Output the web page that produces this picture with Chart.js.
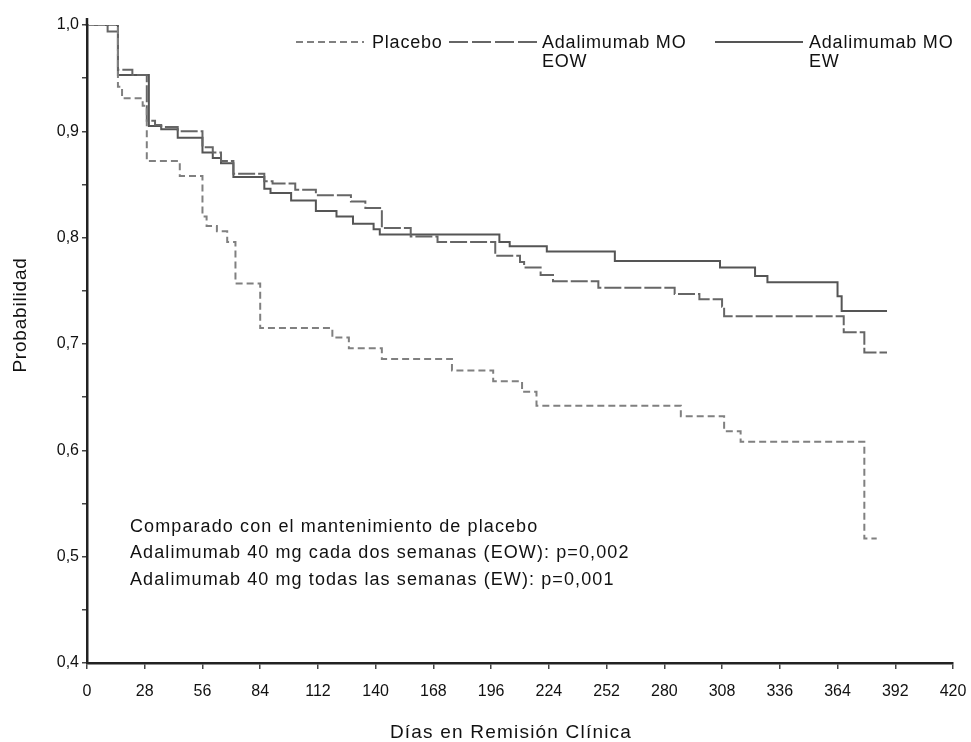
<!DOCTYPE html>
<html lang="es">
<head>
<meta charset="utf-8">
<title>Días en Remisión Clínica</title>
<script src="https://cdn.jsdelivr.net/npm/chart.js@4.4.1/dist/chart.umd.min.js"></script>
<style>
  html, body { margin: 0; padding: 0; background: #fff; }
  #wrap { width: 971px; height: 742px; }
</style>
</head>
<body>
<div id="wrap"><canvas id="kmChart" width="971" height="742"></canvas></div>
<script>
// Kaplan-Meier steps: day of the step and the probability after it
const placeboDays = [0, 15, 17, 27, 29, 45, 56, 58, 63, 68, 72, 84, 119, 127, 143, 177, 197, 211, 218, 288, 309, 317, 377, 383];
const placeboVals = [1.0, 0.942, 0.931, 0.924, 0.872, 0.858, 0.820, 0.811, 0.806, 0.796, 0.757, 0.715, 0.706, 0.696, 0.686, 0.675, 0.665, 0.655, 0.642, 0.632, 0.618, 0.608, 0.517, 0.517];

const eowDays = [0, 10, 15, 22, 29, 33, 36, 44, 56, 61, 65, 71, 86, 90, 101, 111, 128, 135, 143, 157, 170, 198, 210, 212, 220, 226, 248, 285, 297, 308, 309, 367, 377, 388];
const eowVals = [1.0, 0.994, 0.958, 0.953, 0.910, 0.906, 0.904, 0.900, 0.885, 0.880, 0.872, 0.860, 0.853, 0.851, 0.845, 0.840, 0.834, 0.828, 0.809, 0.801, 0.796, 0.783, 0.777, 0.772, 0.765, 0.759, 0.753, 0.747, 0.742, 0.735, 0.726, 0.711, 0.692, 0.692];

const ewDays = [0, 15, 30, 36, 44, 56, 61, 65, 71, 86, 89, 99, 111, 121, 129, 139, 142, 200, 205, 223, 256, 307, 324, 330, 364, 366, 388];
const ewVals = [1.0, 0.953, 0.905, 0.902, 0.894, 0.880, 0.875, 0.870, 0.857, 0.846, 0.842, 0.835, 0.825, 0.820, 0.813, 0.808, 0.803, 0.796, 0.792, 0.787, 0.778, 0.772, 0.764, 0.758, 0.745, 0.731, 0.731];

const xTicks = [0, 28, 56, 84, 112, 140, 168, 196, 224, 252, 280, 308, 336, 364, 392, 420];
const yTicks = [0.4, 0.45, 0.5, 0.55, 0.6, 0.65, 0.7, 0.75, 0.8, 0.85, 0.9, 0.95, 1.0];
const yTickLabels = ["0,4", "", "0,5", "", "0,6", "", "0,7", "", "0,8", "", "0,9", "", "1,0"];

const legendNames = [["Placebo"], ["Adalimumab MO", "EOW"], ["Adalimumab MO", "EW"]];
const noteLines = [
  "Comparado con el mantenimiento de placebo",
  "Adalimumab 40 mg cada dos semanas (EOW): p=0,002",
  "Adalimumab 40 mg todas las semanas (EW): p=0,001"
];

const FONT = "'Liberation Sans', Arial, sans-serif";

function toPoints(days, vals) {
  return days.map((d, i) => ({ x: d, y: vals[i] }));
}

// Legend, note and axis titles
const extrasPlugin = {
  id: "extras",
  afterDraw(chart) {
    const ctx = chart.ctx;
    const area = chart.chartArea;
    ctx.save();

    // y axis runs a little above 1,0
    ctx.strokeStyle = "#222";
    ctx.lineWidth = 2.5;
    ctx.beginPath();
    ctx.moveTo(area.left, area.top + 1);
    ctx.lineTo(area.left, area.top - 7);
    ctx.stroke();

    // legend
    const items = [
      { x1: 296, x2: 364, tx: 372, dash: [7, 4], color: "#808080" },
      { x1: 449, x2: 540, tx: 542, dash: [19, 4], color: "#666" },
      { x1: 715, x2: 803, tx: 809, dash: [], color: "#555" }
    ];
    ctx.letterSpacing = "0.8px";
    items.forEach((it, i) => {
      ctx.strokeStyle = it.color;
      ctx.lineWidth = 2;
      ctx.setLineDash(it.dash);
      ctx.beginPath();
      ctx.moveTo(it.x1, 42);
      ctx.lineTo(it.x2, 42);
      ctx.stroke();
      ctx.setLineDash([]);
      ctx.fillStyle = "#111";
      ctx.font = "18px " + FONT;
      ctx.textAlign = "left";
      ctx.textBaseline = "middle";
      legendNames[i].forEach((t, j) => ctx.fillText(t, it.tx, 43 + j * 19));
    });

    // p-value note
    ctx.font = "18px " + FONT;
    ctx.letterSpacing = "1.1px";
    ctx.fillStyle = "#111";
    noteLines.forEach((t, i) => ctx.fillText(t, 130, 527 + i * 26.5));

    // axis titles
    ctx.font = "19px " + FONT;
    ctx.letterSpacing = "1.2px";
    ctx.textAlign = "center";
    ctx.fillText("Días en Remisión Clínica", 511, 733);
    ctx.translate(21, 315);
    ctx.rotate(-Math.PI / 2);
    ctx.letterSpacing = "0.8px";
    ctx.fillText("Probabilidad", 0, 0);
    ctx.restore();
  }
};

const ctx = document.getElementById("kmChart").getContext("2d");
new Chart(ctx, {
  type: "line",
  data: {
    datasets: [
      {
        label: "Placebo",
        data: toPoints(placeboDays, placeboVals),
        borderColor: "#808080",
        borderDash: [7, 4],
        borderWidth: 2,
        stepped: "before",
        pointRadius: 0,
        fill: false
      },
      {
        label: "Adalimumab MO EOW",
        data: toPoints(eowDays, eowVals),
        borderColor: "#666",
        borderDash: [17, 3],
        borderWidth: 2,
        stepped: "before",
        pointRadius: 0,
        fill: false
      },
      {
        label: "Adalimumab MO EW",
        data: toPoints(ewDays, ewVals),
        borderColor: "#555",
        borderWidth: 2,
        stepped: "before",
        pointRadius: 0,
        fill: false
      }
    ]
  },
  options: {
    responsive: false,
    animation: false,
    layout: { padding: { top: 25, right: 18, left: 0, bottom: 0 } },
    plugins: {
      legend: { display: false },
      tooltip: { enabled: false }
    },
    scales: {
      x: {
        type: "linear",
        min: 0,
        max: 420,
        afterBuildTicks: (scale) => { scale.ticks = xTicks.map(v => ({ value: v })); },
        afterFit: (scale) => {
          scale.height = 79;
          scale.paddingLeft = 0;
          scale.paddingRight = 0;
        },
        ticks: {
          autoSkip: false,
          maxRotation: 0,
          padding: 13,
          color: "#111",
          font: { family: FONT, size: 16 }
        },
        grid: { drawOnChartArea: false, drawTicks: true, tickLength: 6, color: "#444", lineWidth: 1.5 },
        border: { display: true, color: "#222", width: 2.5 }
      },
      y: {
        type: "linear",
        min: 0.4,
        max: 1.0,
        afterBuildTicks: (scale) => { scale.ticks = yTicks.map(v => ({ value: v })); },
        afterFit: (scale) => { scale.width = 87; },
        ticks: {
          autoSkip: false,
          padding: 3,
          color: "#111",
          font: { family: FONT, size: 16 },
          callback: (value, index) => yTickLabels[index]
        },
        grid: { drawOnChartArea: false, drawTicks: true, tickLength: 5, color: "#444", lineWidth: 1.5 },
        border: { display: true, color: "#222", width: 2.5 }
      }
    }
  },
  plugins: [extrasPlugin]
});
</script>
</body>
</html>
